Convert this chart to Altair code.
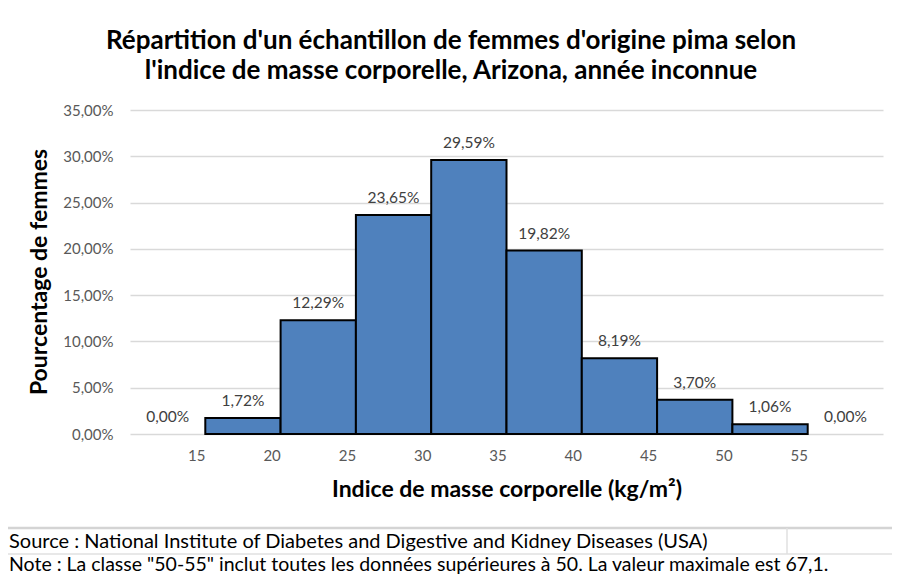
import altair as alt
import pandas as pd

# ---- data ----
bin_start = [10, 15, 20, 25, 30, 35, 40, 45, 50, 55]
pct = [0.0, 1.72, 12.29, 23.65, 29.59, 19.82, 8.19, 3.70, 1.06, 0.0]
tick_values = [15, 20, 25, 30, 35, 40, 45, 50, 55]
y_ticks = [0, 0.05, 0.10, 0.15, 0.20, 0.25, 0.30, 0.35]

title_lines = ["Répartition d'un échantillon de femmes d'origine pima selon",
               "l'indice de masse corporelle, Arizona, année inconnue"]
y_title = "Pourcentage de femmes"
x_title = "Indice de masse corporelle (kg/m²)"
source_txt = "Source : National Institute of Diabetes and Digestive and Kidney Diseases (USA)"
note_txt = 'Note : La classe "50-55" inclut toutes les données supérieures à 50. La valeur maximale est 67,1.'

df = pd.DataFrame({"start": bin_start, "pct": [p / 100 for p in pct]})

FONT = "Lato"
W, H = 753, 324

base = alt.Chart(df).transform_calculate(
    end="datum.start + 5",
    label="replace(format(datum.pct, '.2%'), '.', ',')",
)

xscale = alt.Scale(domain=[10, 60], nice=False, zero=False)
yscale = alt.Scale(domain=[0, 0.35], nice=False)

bars = base.transform_filter("datum.pct > 0").mark_bar(
    color="#4F81BD", stroke="black", strokeWidth=2
).encode(
    x=alt.X("start:Q", scale=xscale,
            axis=alt.Axis(values=tick_values, title=None, domain=False, ticks=False,
                          grid=False, labelOffset=-9, labelPadding=14,
                          labelFont=FONT, labelFontSize=15, labelColor="#595959")),
    x2="end:Q",
    y=alt.Y("pct:Q", scale=yscale,
            axis=alt.Axis(values=y_ticks,
                          labelExpr="replace(format(datum.value, '.2%'), '.', ',')",
                          title=None, domain=False, ticks=False, grid=True,
                          gridColor="#D9D9D9", gridWidth=1.5, labelPadding=17,
                          labelFont=FONT, labelFontSize=15, labelColor="#595959")),
    y2=alt.datum(0),
)

labels = base.transform_calculate(mid="datum.start + 2.5").mark_text(
    font=FONT, fontSize=15.5, color="#404040", baseline="bottom", dy=-9
).encode(
    x=alt.X("mid:Q", scale=xscale),
    y=alt.Y("pct:Q", scale=yscale),
    text="label:N",
)


def txt(s, x, y, size, weight="normal", align="center", angle=0, color="black"):
    return alt.Chart(pd.DataFrame({"t": [s]})).mark_text(
        font=FONT, fontSize=size, fontWeight=weight, align=align, baseline="middle",
        angle=angle, color=color
    ).encode(text="t:N", x=alt.value(x), y=alt.value(y))


def rule(x1, x2, y1, y2, color, w):
    return alt.Chart(pd.DataFrame({"a": [0]})).mark_rule(color=color, strokeWidth=w).encode(
        x=alt.value(x1), x2=alt.value(x2), y=alt.value(y1), y2=alt.value(y2)
    )


texts = [
    txt(title_lines[0], 321, -69, 26, "bold"),
    txt(title_lines[1], 321, -39, 26, "bold"),
    txt(y_title, -90, 162, 23, "bold", angle=270),
    txt(x_title, 377, 380, 23, "bold"),
    txt(source_txt, -121, 432, 20, align="left"),
    txt(note_txt, -121, 455, 19.5, align="left"),
]
rules = [
    rule(-122, 762, 418, 418, "#D4D4D4", 2.5),
    rule(-122, 762, 444, 444, "#E1E1E1", 1.5),
    rule(657, 657, 418, 444, "#E1E1E1", 1.5),
]

chart = alt.layer(bars, labels, *rules, *texts).properties(
    width=W, height=H,
    background="white",
    autosize=alt.AutoSizeParams(type="none"),
    padding={"left": 122, "top": 102, "right": 9, "bottom": 141},
).configure_view(stroke=None)

chart.save("out.html", embed_options={"renderer": "svg", "actions": False})
